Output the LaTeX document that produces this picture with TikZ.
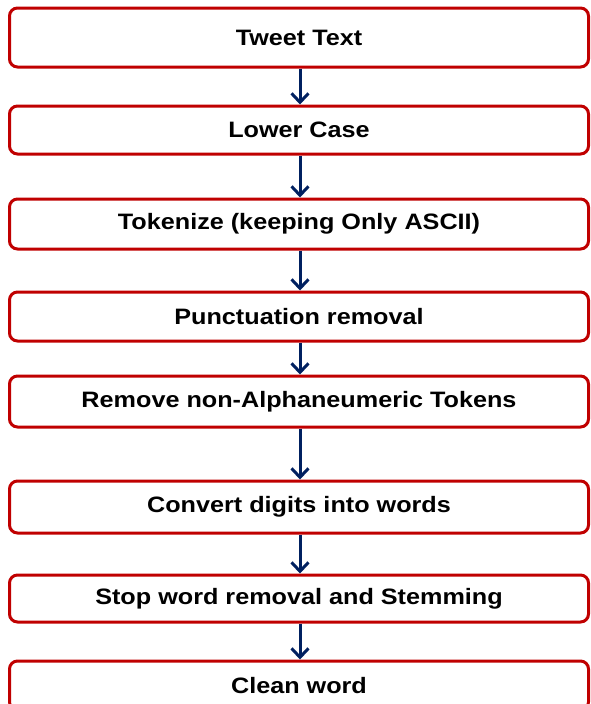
\documentclass[tikz,border=0pt]{standalone}
\usepackage{fontspec}
\setmainfont{Liberation Sans}[FakeStretch=1.13]
\usetikzlibrary{arrows.meta}
\definecolor{boxred}{HTML}{C00000}
\definecolor{navy}{HTML}{002060}
\tikzset{
  stepbox/.style={draw=boxred, line width=3pt, rounded corners=8pt, fill=white,
    minimum width=579pt, inner sep=0pt,
    font=\fontsize{22.3}{26}\selectfont\bfseries, text=black},
  flow/.style={draw=navy, line width=3pt, -{Straight Barb[length=9pt,width=17pt,line width=3pt]}}
}
\begin{document}
\begin{tikzpicture}[x=1pt,y=-1pt]
\useasboundingbox (0,0) rectangle (590,704);
\clip (0,0) rectangle (590,704);
\node[stepbox, minimum height=59pt] (b1) at (299,37.5) {Tweet Text};
\node[stepbox, minimum height=48pt] (b2) at (299,130) {Lower Case};
\node[stepbox, minimum height=50pt] (b3) at (299,224) {Tokenize (keeping Only ASCII)};
\node[stepbox, minimum height=49pt] (b4) at (299,316.5) {Punctuation removal};
\node[stepbox, minimum height=51pt] (b5) at (299,401.5) {Remove non-Alphaneumeric Tokens};
\node[stepbox, minimum height=52pt] (b6) at (299,507) {Convert digits into words};
\node[stepbox, minimum height=47pt] (b7) at (299,598.5) {Stop word removal and Stemming};
\node[stepbox, minimum height=49pt] (b8) at (299,685.5) {Clean word};
\foreach \a/\b in {b1/b2,b2/b3,b3/b4,b4/b5,b5/b6,b6/b7,b7/b8}{
  \draw[flow] ([xshift=1pt]\a.south) -- ([xshift=1pt]\b.north);
}
\end{tikzpicture}
\end{document}
